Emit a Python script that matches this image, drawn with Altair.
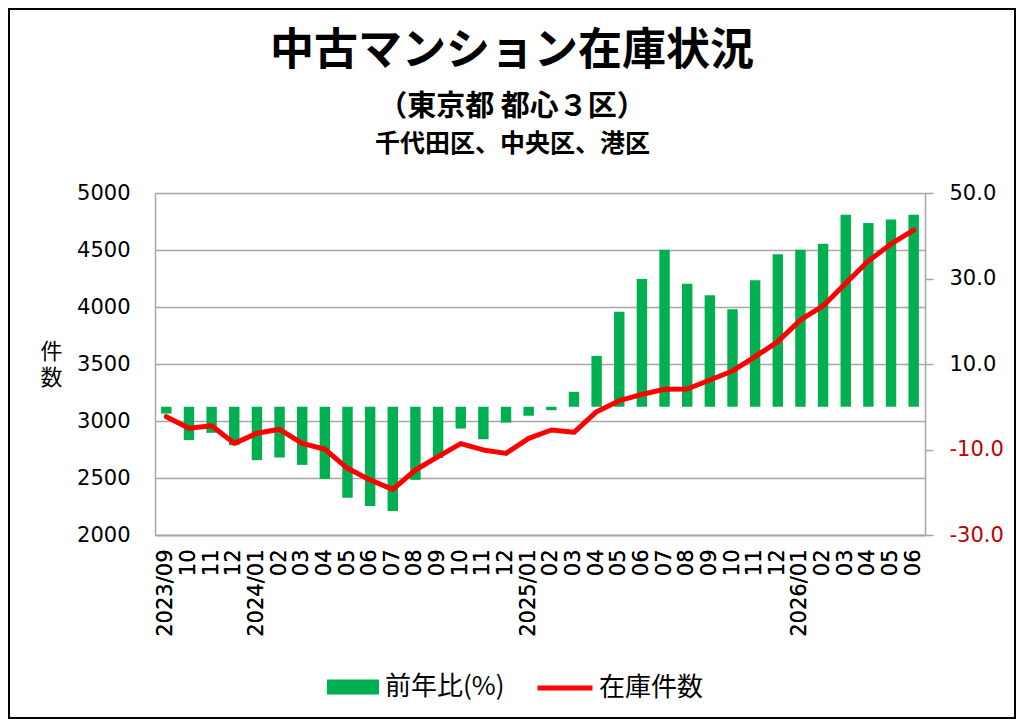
import altair as alt
import pandas as pd

months = [
    "2023/09", "2023/10", "2023/11", "2023/12",
    "2024/01", "2024/02", "2024/03", "2024/04", "2024/05", "2024/06",
    "2024/07", "2024/08", "2024/09", "2024/10", "2024/11", "2024/12",
    "2025/01", "2025/02", "2025/03", "2025/04", "2025/05", "2025/06",
    "2025/07", "2025/08", "2025/09", "2025/10", "2025/11", "2025/12",
    "2026/01", "2026/02", "2026/03", "2026/04", "2026/05", "2026/06",
]
tick_labels = [
    "2023/09", "10", "11", "12",
    "2024/01", "02", "03", "04", "05", "06",
    "07", "08", "09", "10", "11", "12",
    "2025/01", "02", "03", "04", "05", "06",
    "07", "08", "09", "10", "11", "12",
    "2026/01", "02", "03", "04", "05", "06",
]
yoy = [
    -1.6, -7.8, -6.1, -9.0,
    -12.5, -11.9, -13.6, -16.9, -21.3, -23.2,
    -24.4, -17.1, -12.0, -5.1, -7.6, -3.7,
    -2.1, -0.8, 3.5, 11.9, 22.2, 29.9,
    36.7, 28.8, 26.1, 22.8, 29.6, 35.7,
    36.7, 38.1, 44.9, 43.0, 43.8, 44.9,
]
stock = [
    3038, 2936, 2959, 2804,
    2892, 2927, 2804, 2752, 2585, 2482,
    2400, 2570, 2687, 2802, 2746, 2716,
    2848, 2921, 2901, 3082, 3178, 3234,
    3278, 3281, 3360, 3439, 3564, 3696,
    3886, 4009, 4208, 4403, 4553, 4675,
]
title_text = "中古マンション在庫状況"
subtitle_text = "（東京都 都心３区）"
wards_text = "千代田区、中央区、港区"
bar_name = "前年比(%)"
line_name = "在庫件数"
left_ticks = [2000, 2500, 3000, 3500, 4000, 4500, 5000]
right_ticks = [-30, -10, 10, 30, 50]

GREEN = "#00b050"
RED = "#ff0000"
DARKRED = "#c00000"
GRID = "#a6a6a6"
JP = "Noto Sans CJK JP"
NUM = "DejaVu Sans"

df = pd.DataFrame({
    "month": months,
    "yoy": yoy,
    "stock": stock,
    "s1": bar_name,
    "s2": line_name,
})

label_obj = "{" + ", ".join(f"'{m}': '{t}'" for m, t in zip(months, tick_labels)) + "}"
label_expr = f"{label_obj}[datum.value]"

x_enc = alt.X(
    "month:N",
    sort=months,
    scale=alt.Scale(paddingInner=0.54, paddingOuter=0.27),
    axis=alt.Axis(
        orient="bottom",
        title=None,
        labelAngle=270,
        labelAlign="right",
        labelBaseline="middle",
        labelExpr=label_expr,
        ticks=False,
        domain=True,
        domainColor=GRID,
        domainWidth=1.5,
        labelFont=NUM,
        labelFontSize=21,
        labelPadding=14,
        labelColor="black",
    ),
)

frame = alt.Chart(pd.DataFrame({"f": [0]})).mark_rect(
    fillOpacity=0, stroke="black", strokeWidth=2
).encode(
    x=alt.value(-146), x2=alt.value(860), y=alt.value(-184), y2=alt.value(525)
)

# invisible layer that carries a top axis whose title is the third heading line
wards = alt.Chart(df).mark_point(opacity=0).encode(
    x=alt.X(
        "month:N",
        sort=months,
        axis=alt.Axis(
            orient="top",
            labels=False,
            ticks=False,
            domain=False,
            grid=False,
            title=wards_text,
            titleFont=JP,
            titleFontSize=25,
            titleFontWeight="bold",
            titleColor="black",
            titleAngle=0,
            titleX=357,
            titleY=-50,
            titleAlign="center",
            titleBaseline="middle",
        ),
    ),
)

bars = alt.Chart(df).mark_bar().encode(
    x=x_enc,
    y=alt.Y(
        "yoy:Q",
        scale=alt.Scale(domain=[-30, 50], nice=False, zero=False),
        axis=alt.Axis(
            orient="right",
            title=None,
            values=right_ticks,
            labelExpr="datum.value < 0 ? '-' + format(-datum.value, '.1f') : format(datum.value, '.1f')",
            grid=False,
            ticks=True,
            tickSize=8,
            tickColor=GRID,
            tickWidth=1.5,
            domainColor=GRID,
            domainWidth=1.5,
            labelFont=NUM,
            labelFontSize=21,
            labelPadding=16,
            labelColor={"condition": {"test": "datum.value < 0", "value": DARKRED}, "value": "black"},
        ),
    ),
    y2=alt.datum(0),
    fill=alt.Fill(
        "s1:N",
        scale=alt.Scale(domain=[bar_name], range=[GREEN]),
        legend=alt.Legend(
            orient="none",
            legendX=172,
            legendY=468,
            title=None,
            padding=0,
            symbolType="M-1,-0.29H1V0.29H-1Z",
            symbolSize=2704,
            symbolStrokeWidth=0,
            labelFont=JP,
            labelFontSize=26,
            labelColor="black",
            labelOffset=6,
        ),
    ),
)

line = alt.Chart(df).mark_line(strokeWidth=5, strokeCap="round", strokeJoin="round").encode(
    x=x_enc,
    y=alt.Y(
        "stock:Q",
        scale=alt.Scale(domain=[2000, 5000], nice=False, zero=False),
        axis=alt.Axis(
            orient="left",
            values=left_ticks,
            format="d",
            grid=True,
            gridColor=GRID,
            gridWidth=1.5,
            ticks=False,
            domainColor=GRID,
            domainWidth=1.5,
            labelFont=NUM,
            labelFontSize=21,
            labelPadding=25,
            labelColor="black",
            title=["件", "数"],
            titleAngle=0,
            titleX=-104,
            titleY=158,
            titleFont=JP,
            titleFontSize=22,
            titleFontWeight="normal",
            titleColor="black",
            titleLineHeight=26,
            titleAlign="center",
            titleBaseline="middle",
        ),
    ),
    stroke=alt.Stroke(
        "s2:N",
        scale=alt.Scale(domain=[line_name], range=[RED]),
        legend=alt.Legend(
            orient="none",
            legendX=380,
            legendY=465,
            title=None,
            padding=0,
            symbolType="stroke",
            symbolSize=3025,
            symbolStrokeWidth=5,
            labelFont=JP,
            labelFontSize=26,
            labelColor="black",
            labelOffset=4,
        ),
    ),
)

chart = alt.layer(frame, wards, bars, line).resolve_scale(
    y="independent", fill="independent", stroke="independent"
).resolve_axis(
    x="independent"
).properties(
    width=770,
    height=342,
    padding={"left": 147, "top": 185, "right": 91, "bottom": 184},
    autosize=alt.AutoSizeParams(type="none"),
    title=alt.Title(
        text=title_text,
        subtitle=subtitle_text,
        font=JP,
        fontSize=44,
        fontWeight="bold",
        color="black",
        subtitleFont=JP,
        subtitleFontSize=29,
        subtitleFontWeight="bold",
        subtitleColor="black",
        subtitleLineHeight=32,
        subtitlePadding=19,
        anchor="middle",
        dx=-28,
        offset=-114,
    ),
).configure_view(stroke=None).configure(background="white")

chart.save("out.html", embed_options={"renderer": "svg", "actions": False})
